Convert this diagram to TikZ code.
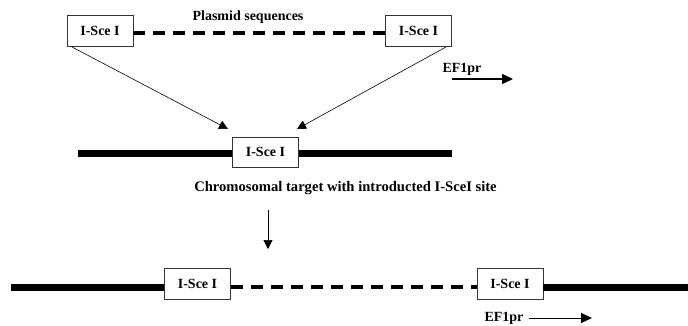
\documentclass[tikz,border=0pt]{standalone}
\usepackage{fontspec}
\setmainfont{Liberation Serif}
\usetikzlibrary{arrows.meta}
\tikzset{
  site/.style={draw=black!80, line width=0.8pt, fill=white, minimum width=66pt, minimum height=31pt, inner sep=0pt, font=\fontsize{14}{15}\selectfont\bfseries},
  lbl/.style={inner sep=0pt, font=\fontsize{14}{15}\selectfont\bfseries},
  chrom/.style={line width=7pt},
  plasmid/.style={line width=4pt, dash pattern=on 12pt off 8pt},
  thinarrow/.style={line width=0.6pt, -{Triangle[length=9pt,width=9pt]}},
  prarrow/.style={line width=1.3pt, -{Triangle[length=11pt,width=10pt]}}
}
\begin{document}
\begin{tikzpicture}[x=1pt,y=-1pt]
\useasboundingbox (0,0) rectangle (688,326);
% top plasmid
\node[site] (TL) at (100,31) {I-Sce I};
\node[site] (TR) at (418.5,31) {I-Sce I};
\draw[plasmid] ([yshift=-2pt]TL.east) -- ([yshift=-2pt]TR.west);
\node[lbl] (plas) at (248,17) {Plasmid sequences};
% EF1pr top
\node[lbl] (ef1) at (462,69) {EF1pr};
\coordinate (ef1a) at (452,79);
\coordinate (ef1b) at (513,79);
\draw[prarrow] (ef1a) -- (ef1b);
% chromosome target
\coordinate (cl) at (78,154);
\coordinate (cr) at (452,154);
\draw[chrom] (cl) -- (cr);
\node[site, minimum height=30pt] (M) at (265.5,152) {I-Sce I};
\coordinate (tipL) at (228,129);
\coordinate (tipR) at (297,129);
\coordinate (srcL) at (72,47);
\coordinate (srcR) at (446,47);
\draw[thinarrow] (srcL) -- (tipL);
\draw[thinarrow] (srcR) -- (tipR);
\node[lbl, font=\fontsize{14.6}{15}\selectfont\bfseries] (chtext) at (345.5,188) {Chromosomal target with introducted I-SceI site};
% down arrow
\coordinate (d1) at (268,210);
\coordinate (d2) at (268,249);
\draw[thinarrow] (d1) -- (d2);
% bottom result
\node[site] (B1) at (197.5,284) {I-Sce I};
\node[site] (B2) at (510,284) {I-Sce I};
\coordinate (bl) at (11,287);
\coordinate (br) at (688,287);
\draw[chrom] (bl) -- ([yshift=-3pt]B1.west);
\draw[chrom] ([yshift=-3pt]B2.east) -- (br);
\draw[plasmid] ([yshift=-3pt]B1.east) -- ([yshift=-3pt]B2.west);
\node[lbl] (ef2) at (504,318) {EF1pr};
\coordinate (ef2a) at (529,318);
\coordinate (ef2b) at (592,318);
\draw[prarrow, line width=1pt] (ef2a) -- (ef2b);
\end{tikzpicture}
\end{document}
